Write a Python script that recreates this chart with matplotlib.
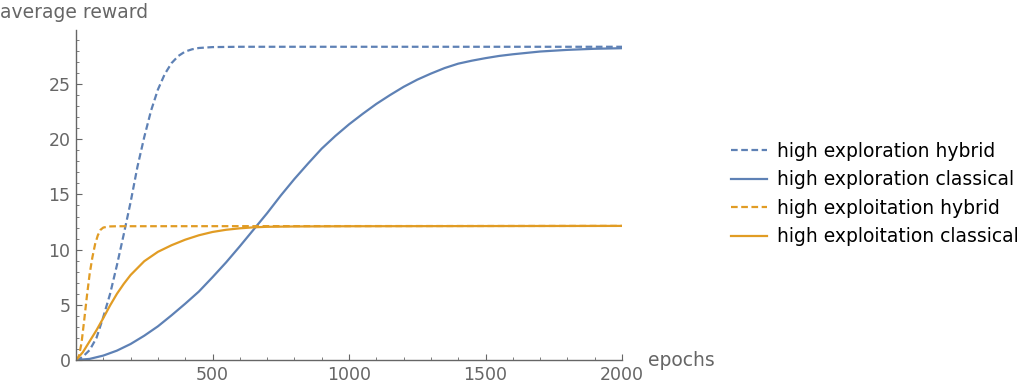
import matplotlib.pyplot as plt
from matplotlib.ticker import MultipleLocator

# high exploration hybrid (dashed blue)
explore_hybrid_x = [0, 10, 25, 50, 75, 100, 125, 150, 175, 200, 225, 250, 275, 300, 325, 350,
                    375, 400, 425, 450, 500, 600, 2000]
explore_hybrid_y = [0, 0.05, 0.3, 0.9, 2.0, 3.9, 6.0, 8.6, 11.4, 14.3, 17.5, 20.2, 22.6, 24.5,
                    25.9, 26.9, 27.55, 27.95, 28.15, 28.27, 28.35, 28.38, 28.38]

# high exploration classical (solid blue)
explore_classic_x = [0, 50, 100, 150, 200, 250, 300, 350, 400, 450, 500, 550, 600, 650, 700,
                     750, 800, 850, 900, 950, 1000, 1050, 1100, 1150, 1200, 1250, 1300, 1350,
                     1400, 1450, 1500, 1550, 1600, 1700, 1800, 1900, 2000]
explore_classic_y = [0, 0.1, 0.4, 0.85, 1.45, 2.2, 3.05, 4.05, 5.1, 6.2, 7.5, 8.85, 10.3, 11.8,
                     13.3, 14.9, 16.4, 17.8, 19.15, 20.3, 21.35, 22.3, 23.2, 24.0, 24.75, 25.4,
                     25.95, 26.45, 26.85, 27.12, 27.35, 27.55, 27.7, 27.95, 28.1, 28.2, 28.25]

# high exploitation hybrid (dashed orange)
exploit_hybrid_x = [0, 10, 20, 30, 40, 50, 60, 70, 80, 90, 100, 120, 150, 2000]
exploit_hybrid_y = [0, 0.3, 1.5, 3.6, 5.8, 7.8, 9.3, 10.5, 11.3, 11.8, 12.0, 12.1, 12.12, 12.15]

# high exploitation classical (solid orange)
exploit_classic_x = [0, 25, 50, 75, 100, 125, 150, 175, 200, 250, 300, 350, 400, 450, 500, 550,
                     600, 650, 700, 800, 1000, 2000]
exploit_classic_y = [0, 0.7, 1.7, 2.7, 3.8, 4.95, 6.0, 6.9, 7.7, 8.95, 9.8, 10.4, 10.9, 11.3,
                     11.6, 11.8, 11.93, 12.02, 12.07, 12.1, 12.12, 12.15]

blue = "#5E81B5"
orange = "#E19C24"
grey = "#666666"

fig = plt.figure(figsize=(10.29, 3.89), dpi=100)
ax = fig.add_axes([76 / 1029, 29 / 389, 546 / 1029, 330 / 389])

ax.plot(explore_hybrid_x, explore_hybrid_y, color=blue, lw=1.6, ls=(0, (3, 1.6)),
        label="high exploration hybrid")
ax.plot(explore_classic_x, explore_classic_y, color=blue, lw=1.6,
        label="high exploration classical")
ax.plot(exploit_hybrid_x, exploit_hybrid_y, color=orange, lw=1.6, ls=(0, (3, 1.6)),
        label="high exploitation hybrid")
ax.plot(exploit_classic_x, exploit_classic_y, color=orange, lw=1.6,
        label="high exploitation classical")

ax.set_xlim(0, 2000)
ax.set_ylim(0, 29.9)
ax.xaxis.set_major_locator(MultipleLocator(500))
ax.xaxis.set_minor_locator(MultipleLocator(100))
ax.yaxis.set_major_locator(MultipleLocator(5))
ax.yaxis.set_minor_locator(MultipleLocator(1))
ax.set_xticks([500, 1000, 1500, 2000])

for s in ["top", "right"]:
    ax.spines[s].set_visible(False)
for s in ["left", "bottom"]:
    ax.spines[s].set_color(grey)
    ax.spines[s].set_linewidth(1.0)

ax.tick_params(which="major", direction="in", length=4.5, width=0.8, color=grey,
               labelcolor=grey, labelsize=12.5, pad=4)
ax.tick_params(which="minor", direction="in", length=2.2, width=0.6, color=grey)

fig.text(0, 1 - 13 / 389, "average reward", color=grey, fontsize=13.5,
         ha="left", va="center")
fig.text(648 / 1029, 1 - 360 / 389, "epochs", color=grey, fontsize=13.5,
         ha="left", va="center")

ax.legend(loc="center left", bbox_to_anchor=(1.168, 0.503), frameon=False, fontsize=13.5,
          handlelength=1.95, handletextpad=0.5, labelspacing=0.5)

fig.savefig("out.png", dpi=100)
